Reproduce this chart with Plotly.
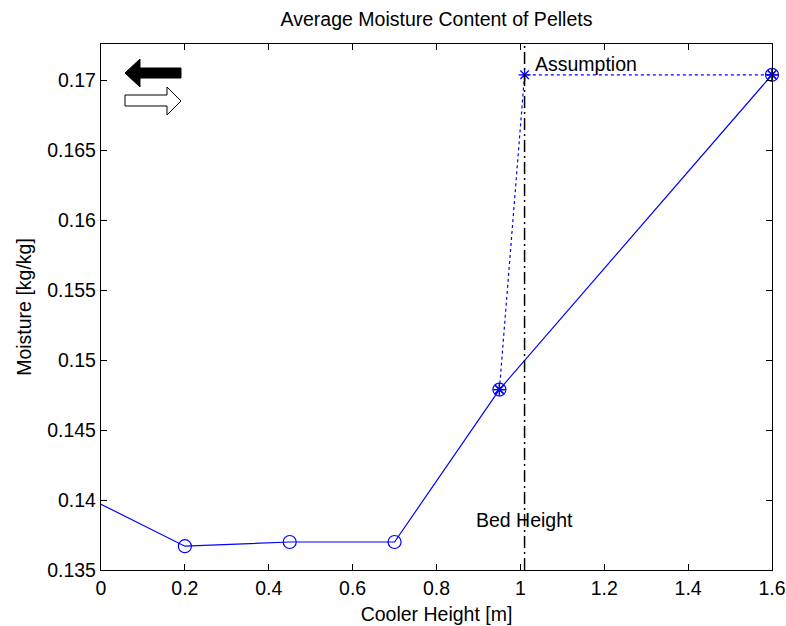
import plotly.graph_objects as go

# Data
height = [0, 0.2, 0.45, 0.7, 0.95, 1.6]
moisture = [0.1397, 0.1367, 0.1370, 0.1370, 0.1479, 0.1704]
circle_x = height[1:]
circle_y = moisture[1:]
star_x = [0.95, 1.6]
star_y = [0.1479, 0.1704]
assume_x = [0.95, 1.01, 1.6]
assume_y = [0.1479, 0.1704, 0.1704]
bed_height = 1.01
x_ticks = [0, 0.2, 0.4, 0.6, 0.8, 1.0, 1.2, 1.4, 1.6]
x_tick_text = ["0", "0.2", "0.4", "0.6", "0.8", "1", "1.2", "1.4", "1.6"]
y_ticks = [0.135, 0.14, 0.145, 0.15, 0.155, 0.16, 0.165, 0.17]
y_tick_text = ["0.135", "0.14", "0.145", "0.15", "0.155", "0.16", "0.165", "0.17"]

blue = "#0000ff"
FS = 19.5
fig = go.Figure()

fig.add_trace(go.Scatter(x=height, y=moisture, mode="lines",
                         line=dict(color=blue, width=1.2), showlegend=False))
fig.add_trace(go.Scatter(x=circle_x, y=circle_y, mode="markers", cliponaxis=False,
                         marker=dict(symbol="circle-open", size=13, color=blue,
                                     line=dict(width=1.2, color=blue)),
                         showlegend=False))
fig.add_trace(go.Scatter(x=assume_x, y=assume_y, mode="lines+markers", cliponaxis=False,
                         line=dict(color=blue, width=1.2, dash="dot"),
                         marker=dict(symbol="asterisk-open", size=10, color=blue,
                                     line=dict(width=1.3, color=blue)),
                         showlegend=False))
fig.add_trace(go.Scatter(x=star_x, y=star_y, mode="markers", cliponaxis=False,
                         marker=dict(symbol="asterisk-open", size=10, color=blue,
                                     line=dict(width=1.3, color=blue)),
                         showlegend=False))

fig.add_shape(type="line", x0=bed_height, x1=bed_height, y0=0, y1=1,
              xref="x", yref="paper",
              line=dict(color="black", width=1.5, dash="12px,4px,2px,4px"))

fig.add_annotation(x=1.03, y=0.1712, text="Assumption", showarrow=False,
                   xanchor="left", yanchor="middle",
                   font=dict(size=FS, color="black"))
fig.add_annotation(x=bed_height, y=0.1386, text="Bed Height", showarrow=False,
                   xanchor="center", yanchor="middle",
                   font=dict(size=FS, color="black"))

# Direction arrows (decorative, paper coordinates)
W = 786 - 101 - 14
H = 626 - 44 - 56
def px(xp):
    return (xp - 101) / W
def py(yp):
    return 1 - (yp - 44) / H

def path(points):
    s = "M " + " L ".join(f"{px(a):.5f},{py(b):.5f}" for a, b in points) + " Z"
    return s

left_arrow = [(125, 73), (140, 59), (140, 68), (181, 68), (181, 78), (140, 78), (140, 87)]
right_arrow = [(125, 95), (167, 95), (167, 87), (181, 101), (167, 115), (167, 106), (125, 106)]
fig.add_shape(type="path", path=path(left_arrow), xref="paper", yref="paper",
              fillcolor="black", line=dict(color="black", width=1))
fig.add_shape(type="path", path=path(right_arrow), xref="paper", yref="paper",
              fillcolor="white", line=dict(color="black", width=1))

axis_common = dict(showline=True, linecolor="black", linewidth=1.3, mirror="ticks",
                   ticks="inside", ticklen=6, tickcolor="black", showgrid=False,
                   zeroline=False, automargin=False,
                   tickfont=dict(size=FS, color="black"))
fig.update_xaxes(range=[0, 1.6], tickvals=x_ticks, ticktext=x_tick_text,
                 title=dict(text="Cooler Height [m]", font=dict(size=FS, color="black"), standoff=9),
                 **axis_common)
fig.update_yaxes(range=[0.135, 0.1726], tickvals=y_ticks, ticktext=y_tick_text,
                 title=dict(text="Moisture [kg/kg]", font=dict(size=FS, color="black"), standoff=10),
                 **axis_common)

fig.update_layout(
    width=786, height=626,
    margin=dict(l=101, r=14, t=44, b=56, autoexpand=False),
    plot_bgcolor="white", paper_bgcolor="white",
    font=dict(family="Liberation Sans, Arial, sans-serif", color="black"),
    title=dict(text="Average Moisture Content of Pellets", x=0.5, xref="paper",
               y=1 - 19 / 626, yanchor="middle", font=dict(size=FS, color="black")),
)

fig.write_html("out.html")
